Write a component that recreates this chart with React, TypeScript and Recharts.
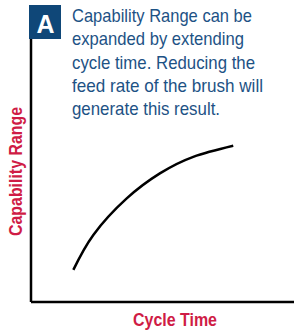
import React from "react";
import { LineChart, Line, XAxis, YAxis } from "recharts";

const cycleTime = [16.1, 23.7, 36.4, 49.0, 61.7, 76.9];
const capabilityRange = [12.2, 25.5, 39.4, 48.9, 55.2, 59.4];
const titleLines = [
  "Capability Range can be",
  "expanded by extending",
  "cycle time. Reducing the",
  "feed rate of the brush will",
  "generate this result.",
];
const titleWidths = [180, 172, 183, 191, 148];
const panelLetter = "A";
const xLabel = "Cycle Time";
const yLabel = "Capability Range";

const data = cycleTime.map((x, i) => ({ x, y: capabilityRange[i] }));

const BLUE = "#0f4778";
const TEXT_BLUE = "#1d5285";
const RED = "#cf1c45";
const FONT = "'Liberation Sans', Arial, sans-serif";

const XLabel = (props: any) => {
  const vb = props.viewBox || {};
  return (
    <text
      x={vb.x + vb.width / 2 + 12.5}
      y={326}
      textAnchor="middle"
      fill={RED}
      fontFamily={FONT}
      fontWeight="bold"
      fontSize={19}
      textLength={84}
      lengthAdjust="spacingAndGlyphs"
    >
      {xLabel}
    </text>
  );
};

const YLabel = (props: any) => {
  const vb = props.viewBox || {};
  const cx = 22;
  const cy = vb.y + vb.height / 2 + 1;
  return (
    <text
      x={cx}
      y={cy}
      transform={`rotate(-90 ${cx} ${cy})`}
      textAnchor="middle"
      fill={RED}
      fontFamily={FONT}
      fontWeight="bold"
      fontSize={19}
      textLength={129}
      lengthAdjust="spacingAndGlyphs"
    >
      {yLabel}
    </text>
  );
};

export default function App() {
  return (
    <div style={{ position: "absolute", left: 0, top: 0, width: 294, height: 331, background: "#fff" }}>
      <LineChart
        width={294}
        height={331}
        data={data}
        margin={{ top: 39, right: 0, bottom: 0, left: 0 }}
      >
        <XAxis
          dataKey="x"
          type="number"
          domain={[0, 100]}
          tick={false}
          tickLine={false}
          height={29}
          axisLine={{ stroke: "#000", strokeWidth: 2.5 }}
          label={<XLabel />}
        />
        <YAxis
          type="number"
          domain={[0, 100]}
          tick={false}
          tickLine={false}
          width={31}
          axisLine={{ stroke: "#000", strokeWidth: 2.5 }}
          label={<YLabel />}
        />
        <Line
          dataKey="y"
          type="natural"
          stroke="#000"
          strokeWidth={2.5}
          dot={false}
          isAnimationActive={false}
        />
      </LineChart>
      <svg
        width={294}
        height={130}
        style={{ position: "absolute", left: 0, top: 0, pointerEvents: "none" }}
      >
        <rect x={29} y={5} width={32} height={34} fill={BLUE} />
        <text
          x={45.5}
          y={33}
          textAnchor="middle"
          fill="#fff"
          fontFamily={FONT}
          fontWeight="bold"
          fontSize={26}
          textLength={18}
          lengthAdjust="spacingAndGlyphs"
        >
          {panelLetter}
        </text>
        {titleLines.map((line, i) => (
          <text
            key={i}
            x={72}
            y={22 + i * 23.3}
            fill={TEXT_BLUE}
            fontFamily={FONT}
            fontSize={19}
            textLength={titleWidths[i]}
            lengthAdjust="spacingAndGlyphs"
          >
            {line}
          </text>
        ))}
      </svg>
    </div>
  );
}
